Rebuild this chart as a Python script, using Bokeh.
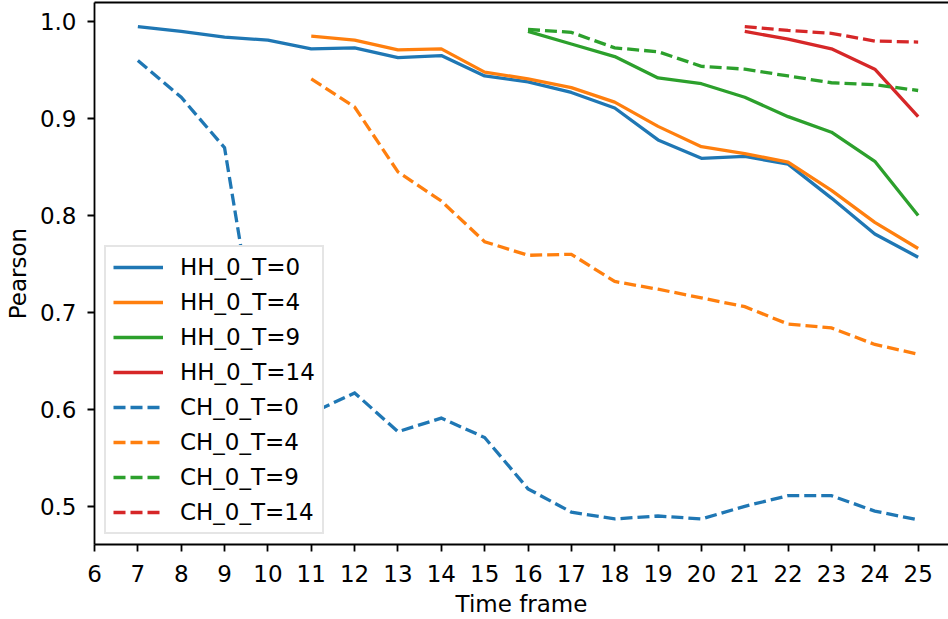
from bokeh.plotting import figure
from bokeh.models import (LinearAxis, FixedTicker, Range1d, Legend, LegendItem,
                          PrintfTickFormatter)
from bokeh.embed import file_html
from bokeh.resources import INLINE

# ---- data ----
x_hh0 = list(range(7, 26))
hh0 = [0.995, 0.990, 0.984, 0.981, 0.972, 0.973, 0.963, 0.965, 0.944, 0.938,
       0.927, 0.911, 0.878, 0.859, 0.861, 0.853, 0.818, 0.781, 0.757]
x_hh4 = list(range(11, 26))
hh4 = [0.985, 0.981, 0.971, 0.972, 0.948, 0.941, 0.932, 0.917, 0.892, 0.871,
       0.864, 0.855, 0.826, 0.793, 0.766]
x_hh9 = list(range(16, 26))
hh9 = [0.990, 0.977, 0.964, 0.942, 0.936, 0.922, 0.902, 0.886, 0.856, 0.800]
x_hh14 = list(range(21, 26))
hh14 = [0.990, 0.982, 0.972, 0.951, 0.902]

x_ch0 = list(range(7, 26))
ch0 = [0.960, 0.922, 0.870, 0.598, 0.596, 0.617, 0.577, 0.591, 0.571, 0.518,
       0.494, 0.487, 0.490, 0.487, 0.500, 0.511, 0.511, 0.495, 0.486]
x_ch4 = list(range(11, 26))
ch4 = [0.941, 0.912, 0.845, 0.815, 0.773, 0.759, 0.760, 0.732, 0.724, 0.715,
       0.706, 0.688, 0.684, 0.667, 0.657]
x_ch9 = list(range(16, 26))
ch9 = [0.992, 0.989, 0.973, 0.969, 0.954, 0.951, 0.944, 0.937, 0.935, 0.929]
x_ch14 = list(range(21, 26))
ch14 = [0.995, 0.991, 0.988, 0.980, 0.979]

x_ticks = list(range(6, 26))
y_ticks = [0.5, 0.6, 0.7, 0.8, 0.9, 1.0]

series = [
    ("HH_0_T=0", x_hh0, hh0, "#1f77b4", "solid"),
    ("HH_0_T=4", x_hh4, hh4, "#ff7f0e", "solid"),
    ("HH_0_T=9", x_hh9, hh9, "#2ca02c", "solid"),
    ("HH_0_T=14", x_hh14, hh14, "#d62728", "solid"),
    ("CH_0_T=0", x_ch0, ch0, "#1f77b4", "12 5"),
    ("CH_0_T=4", x_ch4, ch4, "#ff7f0e", "12 5"),
    ("CH_0_T=9", x_ch9, ch9, "#2ca02c", "12 5"),
    ("CH_0_T=14", x_ch14, ch14, "#d62728", "12 5"),
]

FONT = "DejaVu Sans"
FS = "23px"

p = figure(width=948, height=619, output_backend="svg", toolbar_location=None,
           x_range=Range1d(6.0, 25.70), y_range=Range1d(0.4606, 1.0198),
           min_border_left=94, min_border_right=0, min_border_top=2,
           min_border_bottom=73, x_axis_location=None, y_axis_location=None)
p.outline_line_color = None
p.xgrid.grid_line_color = None
p.ygrid.grid_line_color = None
p.background_fill_color = "white"
p.border_fill_color = "white"

xaxis = LinearAxis(ticker=FixedTicker(ticks=x_ticks), axis_label="Time frame")
yaxis = LinearAxis(ticker=FixedTicker(ticks=y_ticks), axis_label="Pearson",
                   formatter=PrintfTickFormatter(format="%.1f"))
for ax in (xaxis, yaxis):
    ax.axis_line_width = 1.8
    ax.axis_line_color = "black"
    ax.major_tick_line_width = 1.8
    ax.major_tick_line_color = "black"
    ax.major_tick_out = 7
    ax.major_tick_in = 0
    ax.minor_tick_line_color = None
    ax.major_label_text_font = FONT
    ax.major_label_text_font_size = FS
    ax.major_label_text_color = "black"
    ax.axis_label_text_font = FONT
    ax.axis_label_text_font_size = FS
    ax.axis_label_text_font_style = "normal"
    ax.axis_label_text_color = "black"
xaxis.major_label_standoff = 13
xaxis.axis_label_standoff = 6
yaxis.major_label_standoff = 11
yaxis.axis_label_standoff = 6
p.add_layout(xaxis, "below")
p.add_layout(yaxis, "left")

top = LinearAxis(ticker=FixedTicker(ticks=[]), axis_line_width=1.8,
                 axis_line_color="black", major_tick_out=0, major_tick_in=0,
                 minor_tick_line_color=None, major_label_text_font_size="0px",
                 major_label_standoff=0)
p.add_layout(top, "above")

items = []
for label, xs, ys, color, dash in series:
    r = p.line(xs, ys, line_color=color, line_width=3.3, line_dash=dash,
               line_join="round" if dash == "solid" else "miter")
    items.append(LegendItem(label=label, renderers=[r]))

legend = Legend(items=items, location=(10, 10))
legend.level = "overlay"
legend.label_text_font = FONT
legend.label_text_font_size = FS
legend.label_text_color = "black"
legend.glyph_width = 50
legend.glyph_height = 26
legend.label_height = 26
legend.label_standoff = 17
legend.spacing = 9
legend.padding = 7
legend.margin = 0
legend.border_line_color = "#cccccc"
legend.border_line_width = 2
legend.background_fill_color = "white"
legend.background_fill_alpha = 1.0
p.add_layout(legend, "center")

open("out.html", "w").write(file_html(p, INLINE))
